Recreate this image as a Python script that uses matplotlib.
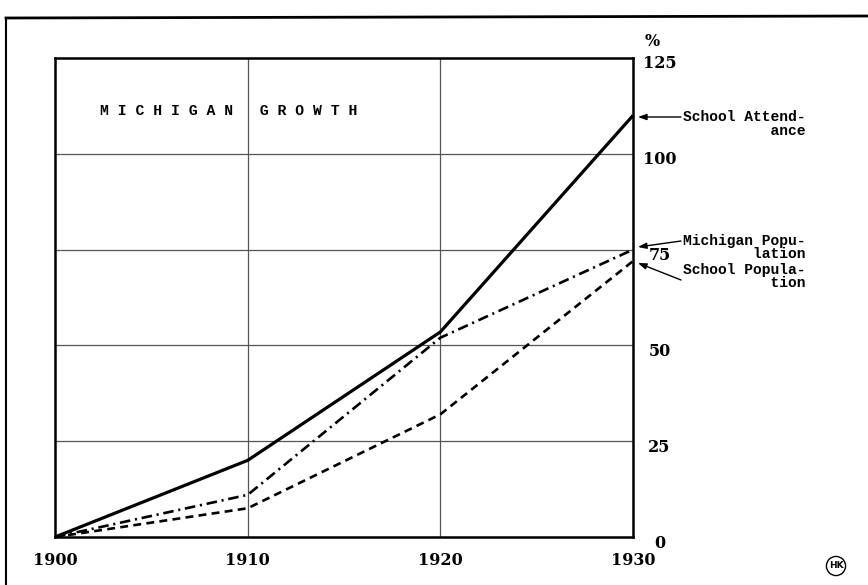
import matplotlib.pyplot as plt
import matplotlib.transforms as mtransforms
from matplotlib.lines import Line2D

years = [1900, 1910, 1920, 1930]
school_attendance = [0, 20, 53.5, 110]
michigan_population = [0, 11, 52, 75]
school_population = [0, 7.5, 32, 72]

pct_ticks = [0, 25, 50, 75, 100, 125]

num_font = {'family': 'DejaVu Serif', 'weight': 'bold', 'size': 11.5}
type_font = {'family': 'Liberation Mono', 'weight': 'bold', 'size': 10.5}

fig = plt.figure(figsize=(8.68, 5.85), dpi=100)
ax = fig.add_axes([55 / 868, 1 - 537 / 585, 578 / 868, 479 / 585])

ax.plot(years, school_attendance, color='black', lw=2.3, solid_capstyle='butt')
ax.plot(years, michigan_population, color='black', lw=1.9,
        dashes=[4, 1.8, 0.8, 1.8])
ax.plot(years, school_population, color='black', lw=1.9, dashes=[3, 2])

ax.set_xlim(1900, 1930)
ax.set_ylim(0, 125)

# grid
for y in pct_ticks[1:-1]:
    ax.axhline(y, color='#555555', lw=0.9, zorder=0)
for x in years[1:-1]:
    ax.axvline(x, color='#555555', lw=0.9, zorder=0)

for s in ax.spines.values():
    s.set_linewidth(1.8)

ax.set_xticks(years)
ax.set_xticklabels([str(y) for y in years], fontdict=num_font)
ax.tick_params(axis='x', length=0, pad=11)

ax.yaxis.tick_right()
ax.set_yticks(pct_ticks)
ax.set_yticklabels([str(v) for v in pct_ticks], fontdict=num_font)
ax.tick_params(axis='y', length=0, pad=19)
# numbers sit a little below their grid lines
shift = mtransforms.ScaledTranslation(0, -4 / 100, fig.dpi_scale_trans)
for lab in ax.get_yticklabels():
    lab.set_horizontalalignment('center')
    lab.set_transform(lab.get_transform() + shift)

fig.text(652 / 868, 1 - 41 / 585, '%', ha='center', va='center', **num_font)

ax.text(0.078, 0.89, 'M I C H I G A N   G R O W T H', transform=ax.transAxes,
        ha='left', va='center', family='Liberation Mono', weight='bold',
        size=10.6)

# labels at the right with arrows to the line ends
arrow = dict(arrowstyle='-|>,head_length=0.5,head_width=0.18', color='black',
             lw=1.0, shrinkA=0, shrinkB=0)


def px(x, y):
    return (x / 868, 1 - y / 585)


fig.add_artist(plt.Annotation('', xy=px(638, 117), xytext=px(681, 117),
                              xycoords='figure fraction', arrowprops=arrow))
fig.text(*px(683, 110), 'School Attend-\n          ance', ha='left',
         va='top', linespacing=1.0, **type_font)

fig.add_artist(plt.Annotation('', xy=px(638, 247), xytext=px(681, 241),
                              xycoords='figure fraction', arrowprops=arrow))
fig.text(*px(683, 234), 'Michigan Popu-\n        lation', ha='left',
         va='top', linespacing=0.95, **type_font)

fig.add_artist(plt.Annotation('', xy=px(638, 263), xytext=px(681, 280),
                              xycoords='figure fraction', arrowprops=arrow))
fig.text(*px(683, 263), 'School Popula-\n          tion', ha='left',
         va='top', linespacing=0.95, **type_font)

fig.text(*px(836, 566), 'HK', ha='center', va='center', fontsize=6.5,
         fontweight='bold', bbox=dict(boxstyle='circle,pad=0.25', fc='white',
                                      ec='black', lw=1.0))

# outer frame
fig.add_artist(Line2D([6 / 868, 1.0], [1 - 18 / 585, 1 - 16 / 585],
                      color='black', lw=2.0))
fig.add_artist(Line2D([6 / 868, 6 / 868], [1 - 18 / 585, 0.0],
                      color='black', lw=1.5))

fig.savefig('out.png', dpi=100)
